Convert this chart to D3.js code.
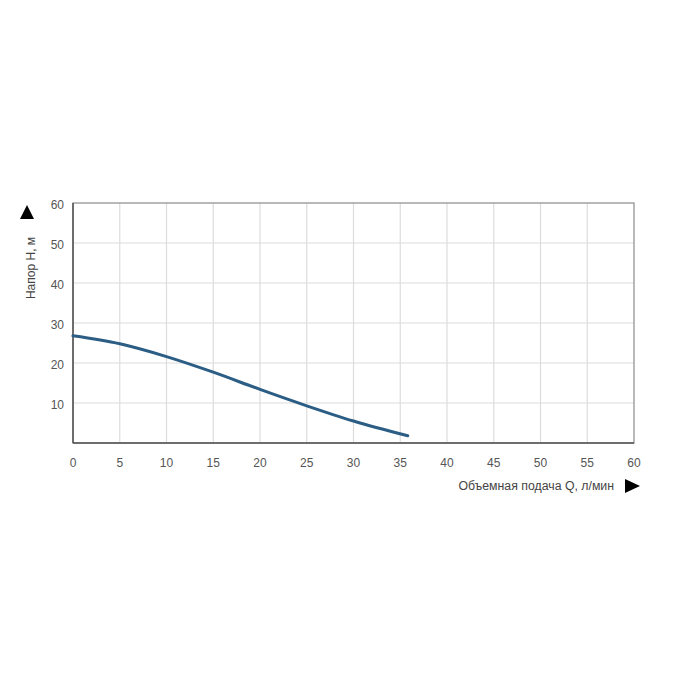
<!DOCTYPE html>
<html>
<head>
<meta charset="utf-8">
<script src="https://cdn.jsdelivr.net/npm/d3@7"></script>
<style>
  body { margin: 0; background: #fff; }
  svg text { font-family: "Liberation Sans", Arial, sans-serif; }
</style>
</head>
<body>
<svg id="chart" width="700" height="700"></svg>
<script>
// flow Q (l/min) and head H (m)
const flow = [0, 5, 10, 15, 20, 25, 30, 35.8];
const head = [26.8, 24.8, 21.6, 17.7, 13.4, 9.3, 5.5, 1.8];
const xTicks = [0, 5, 10, 15, 20, 25, 30, 35, 40, 45, 50, 55, 60];
const yTicks = [10, 20, 30, 40, 50, 60];

const margin = { left: 73, top: 203, right: 66, bottom: 257 };
const width = 700 - margin.left - margin.right;
const height = 700 - margin.top - margin.bottom;

const svg = d3.select('#chart');
const g = svg.append('g').attr('transform', `translate(${margin.left},${margin.top})`);

const x = d3.scaleLinear().domain([0, 60]).range([0, width]);
const y = d3.scaleLinear().domain([0, 60]).range([height, 0]);

// grid
g.selectAll('.vgrid').data(xTicks.slice(1, -1)).enter().append('line')
    .attr('x1', d => x(d)).attr('x2', d => x(d))
    .attr('y1', 0).attr('y2', height)
    .attr('stroke', '#dcdcdc').attr('stroke-width', 1.2);
g.selectAll('.hgrid').data(yTicks.slice(0, -1)).enter().append('line')
    .attr('x1', 0).attr('x2', width)
    .attr('y1', d => y(d)).attr('y2', d => y(d))
    .attr('stroke', '#dcdcdc').attr('stroke-width', 1.2);

// frame
g.append('rect').attr('width', width).attr('height', height)
    .attr('fill', 'none').attr('stroke', '#8a8a8a').attr('stroke-width', 1.2);
g.append('line').attr('x1', 0).attr('x2', 0).attr('y1', 0).attr('y2', height)
    .attr('stroke', '#555').attr('stroke-width', 1.5);
g.append('line').attr('x1', 0).attr('x2', width).attr('y1', height).attr('y2', height)
    .attr('stroke', '#555').attr('stroke-width', 1.5);

// tick labels
g.selectAll('.xt').data(xTicks).enter().append('text')
    .attr('x', d => x(d)).attr('y', height + 24)
    .attr('text-anchor', 'middle').attr('font-size', 12).attr('fill', '#555')
    .text(d => d);
g.selectAll('.yt').data(yTicks).enter().append('text')
    .attr('x', -9).attr('y', d => y(d) + 6)
    .attr('text-anchor', 'end').attr('font-size', 12).attr('fill', '#555')
    .text(d => d);

// curve
const line = d3.line().x(d => x(d[0])).y(d => y(d[1])).curve(d3.curveMonotoneX);
g.append('path').datum(flow.map((q, i) => [q, head[i]]))
    .attr('d', line)
    .attr('fill', 'none').attr('stroke', '#2b5d85').attr('stroke-width', 3)
    .attr('stroke-linecap', 'round');

// axis titles and arrows
svg.append('text')
    .attr('transform', 'translate(35,268) rotate(-90)')
    .attr('text-anchor', 'middle').attr('font-size', 12).attr('fill', '#444')
    .text('Напор Н, м');
svg.append('path').attr('d', 'M27,205 L34,219 L20,219 Z').attr('fill', '#000');

svg.append('text')
    .attr('x', 614).attr('y', 490)
    .attr('text-anchor', 'end').attr('font-size', 12.3).attr('fill', '#444')
    .text('Объемная подача Q, л/мин');
svg.append('path').attr('d', 'M625,479 L640,486 L625,493 Z').attr('fill', '#000');
</script>
</body>
</html>
